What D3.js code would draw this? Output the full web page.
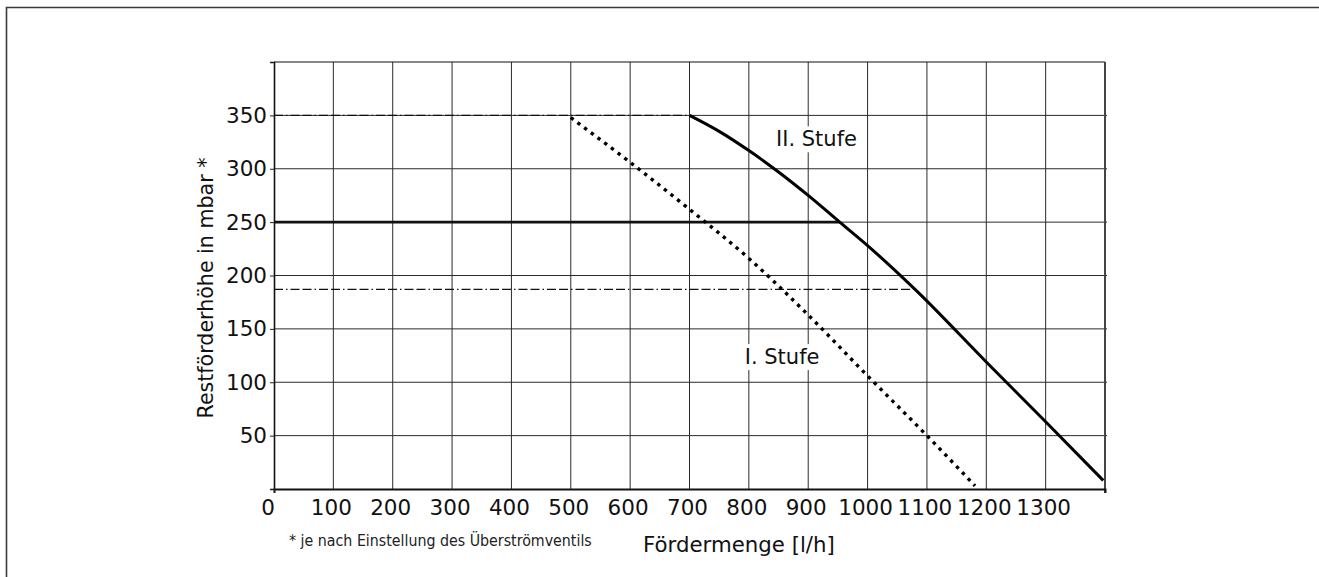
<!DOCTYPE html>
<html lang="de">

<head>
    <meta charset="UTF-8">
    <title>Restförderhöhe</title>
    <style>
        body {
            margin: 0;
            background-color: white;
        }

        svg {
            display: block;
            font-family: "DejaVu Sans", sans-serif;
        }

        .grid line {
            stroke: #2b2b2b;
            stroke-width: 1;
        }

        .tick-label {
            font-size: 21.5px;
            fill: #111;
        }
    </style>
</head>

<body>
    <script src="https://d3js.org/d3.v7.min.js"></script>
    <script>
        {
            // data
            let xTicks = [0, 100, 200, 300, 400, 500, 600, 700, 800, 900, 1000, 1100, 1200, 1300];
            let yTicks = [50, 100, 150, 200, 250, 300, 350];
            let xGrid = [100, 200, 300, 400, 500, 600, 700, 800, 900, 1000, 1100, 1200, 1300];
            let yGrid = [50, 100, 150, 200, 250, 300, 350];

            // I. Stufe (dotted)
            let stufe1 = [[500, 348], [600, 306], [700, 262], [800, 216], [900, 163],
                [1000, 106], [1100, 50], [1181, 3]];
            // II. Stufe (solid)
            let stufe2 = [[700, 350], [750, 335], [800, 317], [850, 297], [900, 275],
                [953, 250], [1000, 228], [1080, 187], [1200, 119], [1300, 63], [1397, 8]];

            // horizontal reference lines: [y, xEnd, style]
            let refLines = [
                [350, 700, 'dashdot'],
                [187, 1080, 'dashdot'],
                [250, 953, 'solid']
            ];

            // curve labels: [text, x, y] in data units (centre / baseline)
            let labels = [
                ['II. Stufe', 914, 321],
                ['I. Stufe', 856, 117]
            ];

            let width = 1319, height = 577;
            let left = 274, right = 1105, top = 62, bottom = 489;

            let svg = d3.select('body')
                .append('svg')
                .attr('width', width)
                .attr('height', height);

            // outer frame (only top and left visible)
            svg.append('path')
                .attr('d', `M6.5,${height} V7.5 H${width}`)
                .attr('fill', 'none')
                .attr('stroke', '#3a3a3a')
                .attr('stroke-width', 1.6);

            let x = d3.scaleLinear().domain([0, 1400]).range([left, right]);
            let y = d3.scaleLinear().domain([0, 400]).range([bottom, top]);

            let grid = svg.append('g').attr('class', 'grid');

            grid.selectAll('.v')
                .data(xGrid)
                .enter()
                .append('line')
                .attr('x1', d => x(d)).attr('x2', d => x(d))
                .attr('y1', y(0)).attr('y2', y(400));

            grid.selectAll('.h')
                .data(yGrid)
                .enter()
                .append('line')
                .attr('x1', x(0)).attr('x2', x(1400) + 2)
                .attr('y1', d => y(d)).attr('y2', d => y(d));

            // top border of plot
            svg.append('line')
                .attr('x1', x(0)).attr('x2', x(1400))
                .attr('y1', y(400)).attr('y2', y(400))
                .attr('stroke', '#111').attr('stroke-width', 1.2);

            // right border
            svg.append('line')
                .attr('x1', x(1400)).attr('x2', x(1400))
                .attr('y1', y(400)).attr('y2', y(0) + 4)
                .attr('stroke', '#444').attr('stroke-width', 2);

            // y axis
            let yAxis = d3.axisLeft(y)
                .tickValues([0].concat(yTicks).concat([400]))
                .tickSize(4)
                .tickFormat(d => (d === 0 || d === 400) ? '' : d);

            let gy = svg.append('g')
                .attr('transform', `translate(${left},0)`)
                .call(yAxis);
            gy.select('.domain').attr('stroke', '#111').attr('stroke-width', 1.6);
            gy.selectAll('.tick line').attr('stroke', '#222');
            gy.selectAll('.tick text')
                .attr('class', 'tick-label')
                .attr('x', -7)
                .attr('font-family', null)
                .attr('font-size', null);
            gy.attr('font-family', null).attr('font-size', null);

            // x axis
            let xAxis = d3.axisBottom(x)
                .tickValues([0, 1400])
                .tickSize(4)
                .tickFormat('');

            let gx = svg.append('g')
                .attr('transform', `translate(0,${bottom})`)
                .call(xAxis);
            gx.select('.domain').attr('stroke', '#111').attr('stroke-width', 2);
            gx.selectAll('.tick line').attr('stroke', '#222');

            svg.append('g')
                .selectAll('text')
                .data(xTicks)
                .enter()
                .append('text')
                .attr('class', 'tick-label')
                .attr('x', d => d === 0 ? x(d) - 6 : x(d) - 2)
                .attr('y', 515)
                .attr('text-anchor', 'middle')
                .text(d => d);

            // reference lines
            refLines.forEach(r => {
                svg.append('line')
                    .attr('x1', x(0)).attr('x2', x(r[1]))
                    .attr('y1', y(r[0])).attr('y2', y(r[0]))
                    .attr('stroke', '#111')
                    .attr('stroke-width', r[2] === 'solid' ? 2.6 : 1.4)
                    .attr('stroke-dasharray', r[2] === 'solid' ? null : '9,3,1.5,3,9,3');
            });

            let line = d3.line()
                .x(d => x(d[0]))
                .y(d => y(d[1]))
                .curve(d3.curveMonotoneX);

            svg.append('path')
                .datum(stufe1)
                .attr('d', line)
                .attr('fill', 'none')
                .attr('stroke', '#000')
                .attr('stroke-width', 3.4)
                .attr('stroke-dasharray', '3.4,5');

            svg.append('path')
                .datum(stufe2)
                .attr('d', line)
                .attr('fill', 'none')
                .attr('stroke', '#000')
                .attr('stroke-width', 3);

            // curve labels with white background
            labels.forEach(l => {
                let g = svg.append('g');
                let t = g.append('text')
                    .attr('x', x(l[1]))
                    .attr('y', y(l[2]))
                    .attr('font-size', 21)
                    .attr('text-anchor', 'middle')
                    .attr('fill', '#111')
                    .text(l[0]);
                let b = t.node().getBBox();
                g.insert('rect', 'text')
                    .attr('x', b.x - 2).attr('y', b.y - 1)
                    .attr('width', b.width + 4).attr('height', b.height + 2)
                    .attr('fill', 'white');
            });

            // axis titles
            svg.append('text')
                .attr('transform', 'translate(213,288) rotate(-90)')
                .attr('text-anchor', 'middle')
                .attr('font-size', 20.6)
                .attr('fill', '#111')
                .text('Restförderhöhe in mbar *');

            svg.append('text')
                .attr('x', 643)
                .attr('y', 552)
                .attr('font-size', 21.3)
                .attr('fill', '#111')
                .text('Fördermenge [l/h]');

            svg.append('text')
                .attr('x', 289)
                .attr('y', 546)
                .attr('font-size', 15.8)
                .attr('font-family', '"DejaVu Sans Condensed", "Liberation Sans Narrow", "Noto Sans", sans-serif')
                .attr('fill', '#222')
                .text('* je nach Einstellung des Überströmventils');
        }
    </script>
</body>

</html>
